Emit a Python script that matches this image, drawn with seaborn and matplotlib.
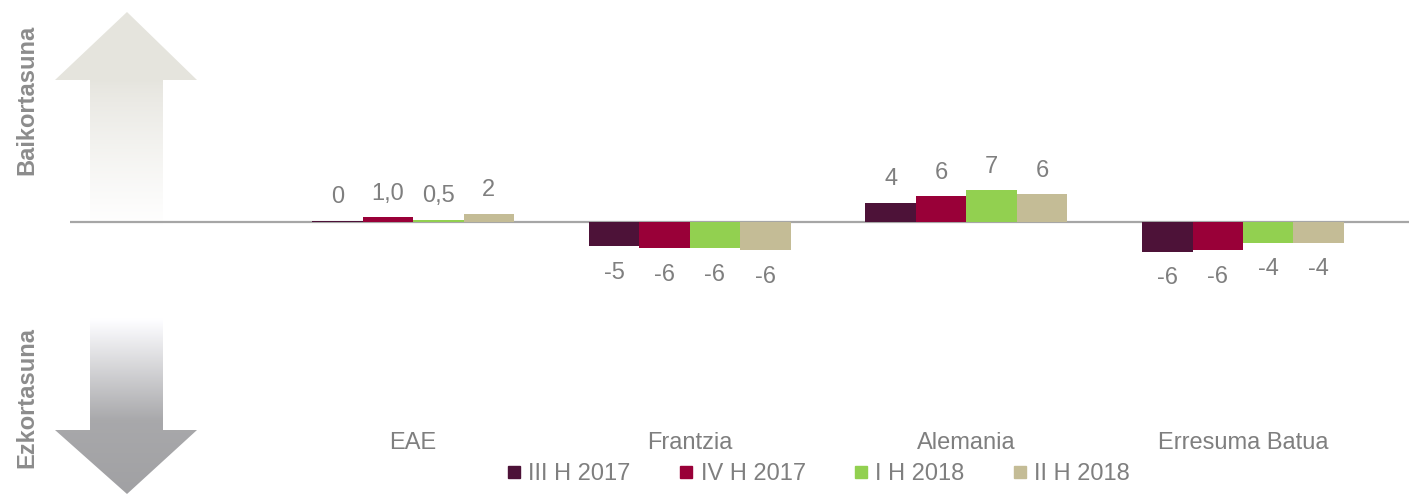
import numpy as np
import pandas as pd
import seaborn as sns
import matplotlib.pyplot as plt
from matplotlib.patches import Polygon
from matplotlib.lines import Line2D

sns.set_style('white')
plt.rcParams['font.family'] = ['Liberation Sans', 'DejaVu Sans']

# data
herrialdeak = ['EAE', 'Frantzia', 'Alemania', 'Erresuma Batua']
aldiak = ['III H 2017', 'IV H 2017', 'I H 2018', 'II H 2018']
eae = [0.2, 1.0, 0.5, 1.8]
frantzia = [-5.4, -5.9, -5.9, -6.3]
alemania = [4.3, 5.7, 7.0, 6.1]
erresuma = [-6.6, -6.3, -4.7, -4.7]
etiketak = [['0', '1,0', '0,5', '2'],
            ['-5', '-6', '-6', '-6'],
            ['4', '6', '7', '6'],
            ['-6', '-6', '-4', '-4']]
koloreak = ['#4D1238', '#990038', '#92D050', '#C4BC96']
grey = '#7F7F7F'
fs = 17

rows = []
for h, vals in zip(herrialdeak, [eae, frantzia, alemania, erresuma]):
    for a, v in zip(aldiak, vals):
        rows.append({'herrialdea': h, 'aldia': a, 'balioa': v})
df = pd.DataFrame(rows)

fig = plt.figure(figsize=(14.09, 4.95), dpi=100)

# ----------------------------------------------------------------
# decorative arrows on the left
# ----------------------------------------------------------------
dax = fig.add_axes([0, 0, 211 / 1409, 1])
dax.set_xlim(0, 211)
dax.set_ylim(495, 0)
dax.axis('off')

yy = np.arange(495)
img = np.ones((495, 1, 3))
up = np.clip((yy - 80) / (225 - 80), 0, 1)
top_col = np.array([0.90, 0.895, 0.87])
for i in range(495):
    if i < 260:
        img[i, 0] = top_col + (1 - top_col) * up[i] ** 0.8
    else:
        t = np.clip((i - 318) / (420 - 318), 0, 1)
        g = 1 - (1 - 0.66) * t
        if i > 420:
            g = 0.66 - 0.03 * (i - 420) / 75
        img[i, 0] = [g, g, g + 0.01]

up_arrow = Polygon([(127, 12), (197, 80), (163, 80), (163, 228), (90, 228),
                    (90, 80), (55, 80)], closed=True, facecolor='none', edgecolor='none')
down_arrow = Polygon([(90, 318), (163, 318), (163, 430), (197, 430), (127, 494),
                      (55, 430), (90, 430)], closed=True, facecolor='none', edgecolor='none')
for arr in [up_arrow, down_arrow]:
    dax.add_patch(arr)
    im = dax.imshow(img, extent=(0, 211, 495, 0), aspect='auto', interpolation='bilinear')
    im.set_clip_path(arr)

fig.text(27 / 1409, 1 - 100 / 495, 'Baikortasuna', rotation=90, ha='center', va='center',
         fontsize=17, fontweight='bold', color='#8C8C8C')
fig.text(27 / 1409, 1 - 398 / 495, 'Ezkortasuna', rotation=90, ha='center', va='center',
         fontsize=17, fontweight='bold', color='#8C8C8C')

# ----------------------------------------------------------------
# bar chart
# ----------------------------------------------------------------
ax = fig.add_axes([70 / 1409, (495 - 428) / 495, 1 - 70 / 1409, 418 / 495])
ax.patch.set_alpha(0)
sns.barplot(data=df, x='herrialdea', y='balioa', hue='aldia', palette=koloreak,
            width=0.73, saturation=1, legend=False, ax=ax, errorbar=None, linewidth=0)

ax.set_xlim(-1.24, 3.6)
ax.set_ylim(-45.8, 47.1)
ax.axhline(0, color='#A6A6A6', lw=1.6, zorder=0)
for s in ax.spines.values():
    s.set_visible(False)
ax.set_yticks([])
ax.set_xlabel('')
ax.set_ylabel('')
ax.tick_params(axis='x', length=0, pad=3, labelsize=fs, labelcolor=grey)

# data labels
for j, cont in enumerate(ax.containers):
    for i, bar in enumerate(cont):
        h = bar.get_height()
        xc = bar.get_x() + bar.get_width() / 2
        if h >= 0:
            ax.annotate(etiketak[i][j], (xc, h), xytext=(0, 17), textcoords='offset points',
                        ha='center', va='center', fontsize=fs, color=grey)
        else:
            ax.annotate(etiketak[i][j], (xc, h), xytext=(0, -19),
                        textcoords='offset points', ha='center', va='center',
                        fontsize=fs, color=grey)

# legend
handles = [Line2D([], [], marker='s', linestyle='none', markersize=8.5,
                  markerfacecolor=c, markeredgecolor=c) for c in koloreak]
fig.legend(handles, aldiak, loc='center', bbox_to_anchor=(818 / 1409, 1 - 474 / 495),
           ncol=4, frameon=False, fontsize=fs, labelcolor=grey, handletextpad=0.25,
           columnspacing=2.0, handlelength=0.7, borderpad=0)

plt.savefig('out.png', dpi=100)
